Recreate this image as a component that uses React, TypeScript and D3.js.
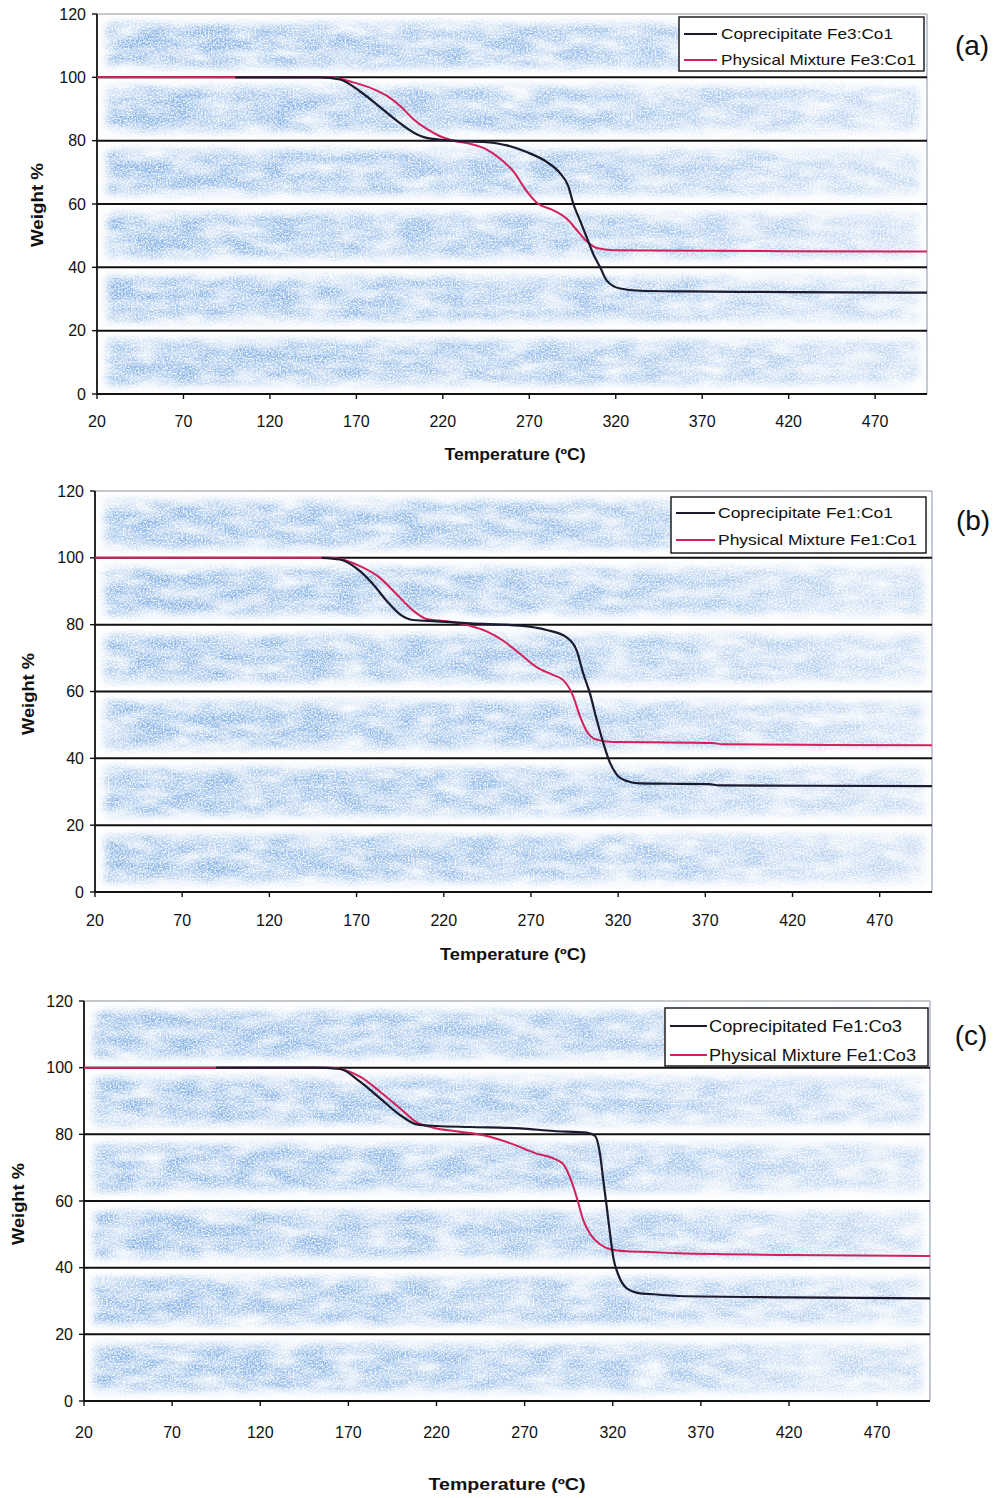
import React from "react";
import * as d3 from "d3";

// ---------- data ----------
const temperatureTicks = [20, 70, 120, 170, 220, 270, 320, 370, 420, 470];
const weightTicks = [0, 20, 40, 60, 80, 100, 120];
const panelTags = ["(a)", "(b)", "(c)"];

const aSeriesNames = ["Coprecipitate Fe3:Co1", "Physical Mixture Fe3:Co1"];
const bSeriesNames = ["Coprecipitate Fe1:Co1", "Physical Mixture Fe1:Co1"];
const cSeriesNames = ["Coprecipitated Fe1:Co3", "Physical Mixture Fe1:Co3"];

const aCopTemp = [100, 149, 160.5, 172, 183.7, 193.3, 203, 210.7, 226, 245.4, 257, 268.5, 280, 287.8, 292.6, 295.5, 299.4, 303.2, 307, 311, 314.8, 322.5, 334, 360, 420, 500];
const aCopWt = [100, 100, 99.3, 95.6, 90.6, 86.3, 82.6, 80.9, 80, 79.5, 78.5, 76.4, 73.3, 69.7, 65.6, 60, 54.7, 49.5, 44.2, 40, 35.8, 33.3, 32.6, 32.4, 32.2, 32];
const aMixTemp = [20, 100, 155, 168.2, 179.8, 187.5, 195.2, 203, 210.7, 218.4, 226, 235.7, 245.4, 253, 260.8, 268.5, 274.2, 284, 291.6, 297.4, 303.2, 309, 318.6, 340, 420, 500];
const aMixWt = [100, 100, 100, 98.4, 96.3, 94.2, 91, 86.8, 83.7, 81.4, 80, 79, 77.2, 74.4, 70.3, 64.1, 60.5, 58, 55.4, 51.8, 48.2, 46.1, 45.4, 45.3, 45.1, 45];

const bCopTemp = [150, 160.5, 172, 179.6, 187.3, 194.9, 202.5, 215.9, 235, 263.7, 279, 290.5, 296.2, 300, 303.8, 307.7, 311.5, 315.3, 319.1, 324.9, 332.5, 350, 372, 378, 430, 500];
const bCopWt = [100, 99.5, 96, 92, 87.1, 83.1, 81.4, 81, 80.4, 79.7, 78.4, 76.2, 72.3, 65.4, 59.5, 51.6, 44.6, 38.7, 35.2, 33.2, 32.5, 32.4, 32.3, 31.9, 31.8, 31.7];
const bMixTemp = [20, 100, 155, 172, 183.4, 193, 202.5, 210.2, 221.7, 235, 244.6, 254.1, 263.7, 273.3, 282.8, 288.5, 294.3, 298.1, 301.9, 307.7, 317.2, 340, 374, 380, 440, 500];
const bMixWt = [100, 100, 100, 97.5, 94, 89.1, 84.2, 81.7, 81, 79.7, 78, 75.2, 71.3, 67.3, 64.9, 63.4, 58.5, 52.6, 48.2, 45.6, 44.9, 44.8, 44.6, 44.2, 44, 43.9];

const cCopTemp = [95, 150, 165.3, 176.6, 188, 199.3, 208.8, 220.2, 239, 267.4, 286.3, 305.2, 310, 312.8, 314.7, 316.6, 318.5, 320.4, 323.2, 328, 335.6, 341, 357, 420, 500];
const cCopWt = [100, 100, 99.6, 95.8, 90.8, 85.8, 83, 82.5, 82.2, 81.8, 81, 80.5, 79.5, 74, 66, 58.2, 50, 42.8, 37.8, 33.8, 32.3, 32.1, 31.5, 31.1, 30.8];
const cMixTemp = [20, 100, 160, 176.6, 188, 199.3, 208.8, 218.2, 233.4, 248.5, 263.6, 276.9, 286.3, 292, 295.8, 299.6, 303.4, 307.2, 312.8, 318.5, 328, 341, 357, 420, 500];
const cMixWt = [100, 100, 100, 97.3, 92.8, 87.8, 83.6, 82, 80.8, 79.5, 77, 74.2, 72.8, 71, 67, 61, 54.1, 50.1, 47, 45.5, 44.9, 44.7, 44.3, 43.8, 43.5];

// ---------- layout / style ----------
const COP_COLOR = "#1b1b30";
const MIX_COLOR = "#d3205c";
const FONT = "'Liberation Sans', Arial, Helvetica, sans-serif";

const layouts = [
  {
    left: 97, right: 927, top: 14, bottom: 394,
    tickFont: 16, tickLabelY: 421,
    xTitle: { x: 515, y: 454, w: 141 }, yTitle: { x: 37, y: 205, w: 84 }, titleFont: 16,
    legend: { x: 679, y: 17, w: 245, h: 54, rows: [34, 60], sx1: 684, sx2: 717, tx: 721, font: 15, widths: [172, 195] },
    tag: { x: 972, y: 45 },
  },
  {
    left: 95, right: 932, top: 491, bottom: 892,
    tickFont: 16, tickLabelY: 920,
    xTitle: { x: 513, y: 954, w: 146 }, yTitle: { x: 28, y: 694, w: 82 }, titleFont: 16,
    legend: { x: 671, y: 497, w: 255, h: 56, rows: [513, 540], sx1: 676, sx2: 715, tx: 718, font: 15.5, widths: [175, 199] },
    tag: { x: 973, y: 520 },
  },
  {
    left: 84, right: 930, top: 1001, bottom: 1401,
    tickFont: 16, tickLabelY: 1432,
    xTitle: { x: 507, y: 1484, w: 157 }, yTitle: { x: 18, y: 1204, w: 82 }, titleFont: 16.5,
    legend: { x: 665, y: 1008, w: 263, h: 58, rows: [1026, 1055], sx1: 670, sx2: 707, tx: 709, font: 16, widths: [193, 207] },
    tag: { x: 971, y: 1035 },
  },
];

const panelData = [
  { names: aSeriesNames, cop: [aCopTemp, aCopWt], mix: [aMixTemp, aMixWt] },
  { names: bSeriesNames, cop: [bCopTemp, bCopWt], mix: [bMixTemp, bMixWt] },
  { names: cSeriesNames, cop: [cCopTemp, cCopWt], mix: [cMixTemp, cMixWt] },
];

function zipPts(t: number[], w: number[]): [number, number][] {
  return t.map((v, i) => [v, w[i]] as [number, number]);
}

function Panel({ idx }: { idx: number }) {
  const L = layouts[idx];
  const D = panelData[idx];
  const x = d3.scaleLinear().domain([20, 500]).range([L.left, L.right]);
  const y = d3.scaleLinear().domain([0, 120]).range([L.bottom, L.top]);
  const line = d3
    .line<[number, number]>()
    .x((d) => x(d[0]))
    .y((d) => y(d[1]))
    .curve(d3.curveMonotoneX);

  const bands = weightTicks.slice(0, -1).map((lo, i) => [lo + 3, weightTicks[i + 1] - 3]);
  const copPath = line(zipPts(D.cop[0], D.cop[1])) || "";
  const mixPath = line(zipPts(D.mix[0], D.mix[1])) || "";

  return (
    <g>
      {/* scanned blue speckle background */}
      <g filter="url(#speck)">
        {bands.map(([lo, hi], i) => (
          <rect
            key={i}
            x={L.left + 10}
            y={y(hi)}
            width={L.right - L.left - 18}
            height={y(lo) - y(hi)}
            fill="url(#bandFade)"
          />
        ))}
      </g>
      {/* frame */}
      <line x1={L.left} x2={L.right} y1={y(120)} y2={y(120)} stroke="#8a8f99" strokeWidth={1.2} />
      <line x1={L.right} x2={L.right} y1={y(120)} y2={y(0)} stroke="#9aa6b4" strokeWidth={1.2} />
      {/* gridlines */}
      {weightTicks.filter((v) => v > 0 && v < 120).map((v) => (
        <line key={v} x1={L.left} x2={L.right} y1={y(v)} y2={y(v)} stroke="#111" strokeWidth={2} />
      ))}
      {/* axes */}
      <line x1={L.left} x2={L.right} y1={y(0)} y2={y(0)} stroke="#111" strokeWidth={1.8} />
      <line x1={L.left} x2={L.left} y1={y(120)} y2={y(0)} stroke="#111" strokeWidth={1.8} />
      {weightTicks.map((v) => (
        <g key={"yt" + v}>
          <line x1={L.left - 5} x2={L.left} y1={y(v)} y2={y(v)} stroke="#111" strokeWidth={1.4} />
          <text x={L.left - 11} y={y(v)} dy="0.35em" textAnchor="end" fontSize={L.tickFont} fill="#111">
            {v}
          </text>
        </g>
      ))}
      {temperatureTicks.map((v) => (
        <g key={"xt" + v}>
          <line x1={x(v)} x2={x(v)} y1={y(0)} y2={y(0) + 5} stroke="#111" strokeWidth={1.4} />
          <text x={x(v)} y={L.tickLabelY} dy="0.35em" textAnchor="middle" fontSize={L.tickFont} fill="#111">
            {v}
          </text>
        </g>
      ))}
      {/* curves */}
      <path d={mixPath} fill="none" stroke={MIX_COLOR} strokeWidth={2} strokeLinejoin="round" />
      <path d={copPath} fill="none" stroke={COP_COLOR} strokeWidth={2.2} strokeLinejoin="round" />
      {/* titles */}
      <text
        x={L.xTitle.x - L.xTitle.w / 2}
        y={L.xTitle.y}
        dy="0.35em"
        fontWeight="bold"
        fontSize={L.titleFont}
        fill="#111"
        textLength={L.xTitle.w}
        lengthAdjust="spacingAndGlyphs"
      >
        Temperature (ºC)
      </text>
      <text
        transform={`translate(${L.yTitle.x},${L.yTitle.y + L.yTitle.w / 2}) rotate(-90)`}
        dy="0.35em"
        fontWeight="bold"
        fontSize={L.titleFont}
        fill="#111"
        textLength={L.yTitle.w}
        lengthAdjust="spacingAndGlyphs"
      >
        Weight %
      </text>
      {/* legend */}
      <rect x={L.legend.x} y={L.legend.y} width={L.legend.w} height={L.legend.h} fill="#fff" stroke="#111" strokeWidth={1.4} />
      {D.names.map((name, i) => (
        <g key={name}>
          <line
            x1={L.legend.sx1}
            x2={L.legend.sx2}
            y1={L.legend.rows[i]}
            y2={L.legend.rows[i]}
            stroke={i === 0 ? COP_COLOR : MIX_COLOR}
            strokeWidth={2}
          />
          <text
            x={L.legend.tx}
            y={L.legend.rows[i]}
            dy="0.35em"
            fontSize={L.legend.font}
            fill="#111"
            textLength={L.legend.widths[i]}
            lengthAdjust="spacingAndGlyphs"
          >
            {name}
          </text>
        </g>
      ))}
      {/* panel tag */}
      <text x={L.tag.x} y={L.tag.y} dy="0.35em" textAnchor="middle" fontSize={28} fill="#111">
        {panelTags[idx]}
      </text>
    </g>
  );
}

export default function App() {
  return (
    <svg
      width={998}
      height={1498}
      viewBox="0 0 998 1498"
      style={{ position: "absolute", left: 0, top: 0, background: "#fff" }}
      fontFamily={FONT}
    >
      <defs>
        <linearGradient id="bandFade" x1="0" x2="1" y1="0" y2="0">
          <stop offset="0" stopColor="#fff" stopOpacity={1} />
          <stop offset="0.6" stopColor="#fff" stopOpacity={0.85} />
          <stop offset="1" stopColor="#fff" stopOpacity={0.5} />
        </linearGradient>
        <filter id="speck" x="-0.02" y="-0.02" width="1.04" height="1.04" colorInterpolationFilters="sRGB">
          <feGaussianBlur in="SourceAlpha" stdDeviation="4" result="mask" />
          <feTurbulence type="fractalNoise" baseFrequency="0.03 0.08" numOctaves={2} seed={3} result="coarse" />
          <feColorMatrix
            in="coarse"
            type="matrix"
            values="0 0 0 0 0  0 0 0 0 0  0 0 0 0 0  1.6 0 0 0 -0.1"
            result="ca"
          />
          <feTurbulence type="fractalNoise" baseFrequency="0.6" numOctaves={2} seed={11} result="fine" />
          <feColorMatrix
            in="fine"
            type="matrix"
            values="0 0 0 0 0  0 0 0 0 0  0 0 0 0 0  2.6 0 0 0 -0.7"
            result="fa"
          />
          <feComposite in="ca" in2="fa" operator="arithmetic" k1={0.75} k2={0.12} k3={0.05} k4={0} result="prod" />
          <feFlood floodColor="rgb(125,172,225)" result="blue" />
          <feComposite in="blue" in2="prod" operator="in" result="speck" />
          <feComposite in="speck" in2="mask" operator="in" />
        </filter>
      </defs>
      <rect x={0} y={0} width={998} height={1498} fill="#fff" />
      {layouts.map((_, i) => (
        <Panel key={i} idx={i} />
      ))}
    </svg>
  );
}
